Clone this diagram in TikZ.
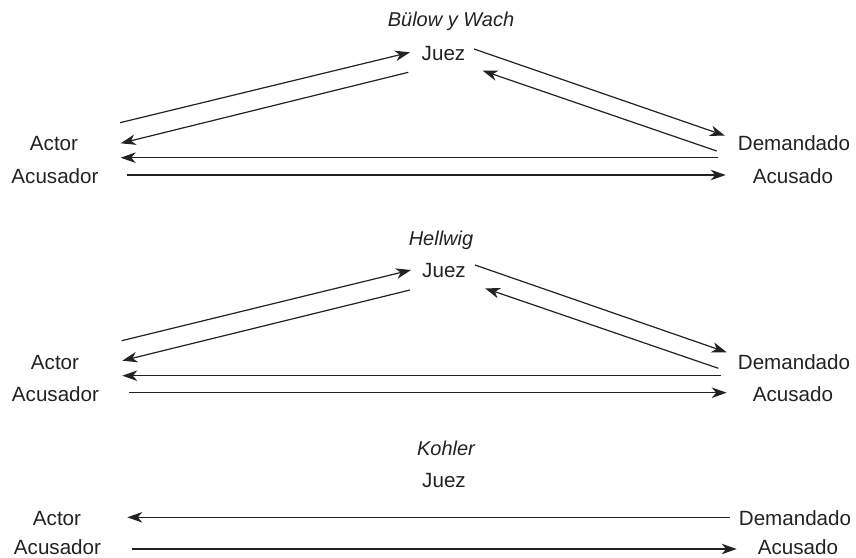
\documentclass[tikz,border=0pt]{standalone}
\usepackage{fontspec}
\setmainfont{Liberation Sans}
\usetikzlibrary{arrows.meta}
\definecolor{ink}{HTML}{222222}
\begin{document}
\begin{tikzpicture}[x=1pt,y=-1pt,
  lbl/.style={anchor=base,inner sep=0pt,text=ink,font=\fontsize{20.6}{24}\selectfont},
  ttl/.style={lbl,font=\fontsize{20}{24}\selectfont\itshape},
  arr/.style={draw=ink,line width=1.2pt,-{Stealth[length=15pt,width=10.5pt,inset=4.5pt]}}]
\useasboundingbox (0,0) rectangle (856,557);

% ---------- Section 1: Bülow y Wach ----------
\node[ttl] (t1) at (451,26.7) {Bülow y Wach};
\node[lbl] (j1) at (443.5,60) {Juez};
\node[lbl] (ac1) at (54,150) {Actor};
\node[lbl] (as1) at (55,183) {Acusador};
\node[lbl] (de1) at (794,150) {Demandado};
\node[lbl] (ad1) at (793,183) {Acusado};
\coordinate (a1s) at (120,122.7);   \coordinate (a1e) at (410,52.3);
\coordinate (b1s) at (408.3,72.3);  \coordinate (b1e) at (120.7,143.3);
\coordinate (c1s) at (718.3,157.7); \coordinate (c1e) at (120.7,157.7);
\coordinate (d1s) at (127.3,175);   \coordinate (d1e) at (725.7,175);
\coordinate (e1s) at (474,49);      \coordinate (e1e) at (725,135.7);
\coordinate (f1s) at (716.7,151);   \coordinate (f1e) at (482.7,70.7);
\draw[arr] (a1s) -- (a1e);
\draw[arr] (b1s) -- (b1e);
\draw[arr] (c1s) -- (c1e);
\draw[arr] (d1s) -- (d1e);
\draw[arr] (e1s) -- (e1e);
\draw[arr] (f1s) -- (f1e);

% ---------- Section 2: Hellwig ----------
\node[ttl] (t2) at (441,245) {Hellwig};
\node[lbl] (j2) at (444,277) {Juez};
\node[lbl] (ac2) at (55,369) {Actor};
\node[lbl] (as2) at (55.5,401.7) {Acusador};
\node[lbl] (de2) at (794,369) {Demandado};
\node[lbl] (ad2) at (793,401.7) {Acusado};
\coordinate (a2s) at (121.7,340.7); \coordinate (a2e) at (411,270);
\coordinate (b2s) at (410,290);     \coordinate (b2e) at (122.3,360.7);
\coordinate (c2s) at (720.7,375.7); \coordinate (c2e) at (122.3,375.7);
\coordinate (d2s) at (129.3,392.7); \coordinate (d2e) at (726.7,392.7);
\coordinate (e2s) at (475,265);     \coordinate (e2e) at (726.7,352.3);
\coordinate (f2s) at (718.3,368.3); \coordinate (f2e) at (485,288.3);
\draw[arr] (a2s) -- (a2e);
\draw[arr] (b2s) -- (b2e);
\draw[arr] (c2s) -- (c2e);
\draw[arr] (d2s) -- (d2e);
\draw[arr] (e2s) -- (e2e);
\draw[arr] (f2s) -- (f2e);

% ---------- Section 3: Kohler ----------
\node[ttl] (t3) at (446,455) {Kohler};
\node[lbl] (j3) at (444,487.7) {Juez};
\node[lbl] (ac3) at (57,525) {Actor};
\node[lbl] (as3) at (57.5,554.3) {Acusador};
\node[lbl] (de3) at (795,525) {Demandado};
\node[lbl] (ad3) at (798,554.3) {Acusado};
\coordinate (c3s) at (730,517.3);   \coordinate (c3e) at (127.3,517.3);
\coordinate (d3s) at (131.7,549);   \coordinate (d3e) at (736.7,549);
\draw[arr] (c3s) -- (c3e);
\draw[arr] (d3s) -- (d3e);
\end{tikzpicture}
\end{document}
